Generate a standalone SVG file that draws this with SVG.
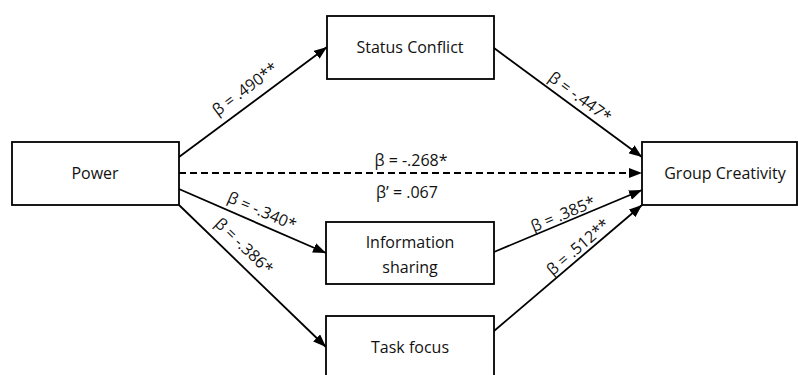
<svg xmlns="http://www.w3.org/2000/svg" width="798" height="375" viewBox="0 0 798 375">
<style>
.box{fill:#fff;stroke:#000;stroke-width:1.8}
.t{font-family:"Open Sans","Liberation Sans",Arial,sans-serif;font-size:16px;fill:#111;text-anchor:middle}
.c{stroke:#000;stroke-width:1.8;fill:none;marker-end:url(#ah)}
.d{stroke-dasharray:7 4}
</style>
<defs>
<marker id="ah" markerUnits="userSpaceOnUse" markerWidth="14" markerHeight="10" refX="13" refY="5" orient="auto">
<path d="M0,0 L13,5 L0,10 z" fill="#000"/>
</marker>
</defs>
<rect width="798" height="375" fill="#fff"/>
<g id="connectors">
<line class="c" x1="179" y1="157" x2="327" y2="47"/>
<line class="c" x1="494" y1="48" x2="642" y2="157"/>
<line class="c d" x1="179" y1="173" x2="642" y2="173"/>
<line class="c" x1="179" y1="189" x2="326" y2="253"/>
<line class="c" x1="179" y1="205" x2="326" y2="347"/>
<line class="c" x1="494" y1="252" x2="642" y2="190"/>
<line class="c" x1="494" y1="331" x2="642" y2="205"/>
<text class="t" transform="translate(245,89) rotate(-36.6)" dy="0.35em">β = .490**</text>
<text class="t" transform="translate(580,97) rotate(36.4)" dy="0.35em">β = -.447*</text>
<text class="t" x="411" y="166">β = -.268*</text>
<text class="t" x="407" y="198">β’ = .067</text>
<text class="t" transform="translate(262,211) rotate(23.5)" dy="0.35em">β = -.340*</text>
<text class="t" transform="translate(244,246) rotate(43.8)" dy="0.35em">β = -.386*</text>
<text class="t" transform="translate(563,214) rotate(-22.7)" dy="0.35em">β = .385*</text>
<text class="t" transform="translate(578,247) rotate(-40.6)" dy="0.35em">β = .512**</text>
</g>
<g id="power">
<rect class="box" x="12" y="142" width="167" height="63"/>
<text class="t" x="95" y="179">Power</text>
</g>
<g id="status-conflict">
<rect class="box" x="327" y="16" width="167" height="63"/>
<text class="t" x="410" y="53">Status Conflict</text>
</g>
<g id="group-creativity">
<rect class="box" x="642" y="142" width="155" height="63"/>
<text class="t" x="725" y="179">Group Creativity</text>
</g>
<g id="information-sharing">
<rect class="box" x="326" y="222" width="168" height="62"/>
<text class="t" x="410" y="248">Information</text>
<text class="t" x="410" y="273">sharing</text>
</g>
<g id="task-focus">
<rect class="box" x="326" y="316" width="168" height="64"/>
<text class="t" x="410" y="353">Task focus</text>
</g>
</svg>
